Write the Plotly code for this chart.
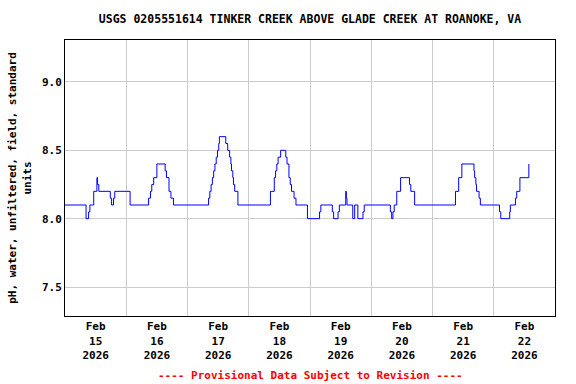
import plotly.graph_objects as go

# change points of the pH record (step series)
times = [
    "2026-02-15 00:00", "2026-02-15 08:15", "2026-02-15 09:15", "2026-02-15 09:45",
    "2026-02-15 11:15", "2026-02-15 12:30", "2026-02-15 12:45", "2026-02-15 13:15",
    "2026-02-15 17:45", "2026-02-15 18:15", "2026-02-15 19:00", "2026-02-15 19:30",
    "2026-02-16 01:30", "2026-02-16 08:45", "2026-02-16 09:30", "2026-02-16 10:00",
    "2026-02-16 10:45", "2026-02-16 12:00", "2026-02-16 15:15", "2026-02-16 15:45",
    "2026-02-16 16:45", "2026-02-16 17:30", "2026-02-16 18:30",
    "2026-02-17 08:15", "2026-02-17 08:45", "2026-02-17 09:15", "2026-02-17 09:45",
    "2026-02-17 10:15", "2026-02-17 10:45", "2026-02-17 11:15", "2026-02-17 11:45",
    "2026-02-17 12:15", "2026-02-17 12:30", "2026-02-17 15:00", "2026-02-17 15:45",
    "2026-02-17 16:30", "2026-02-17 17:00", "2026-02-17 17:15", "2026-02-17 17:45",
    "2026-02-17 18:00", "2026-02-17 18:30", "2026-02-17 19:45",
    "2026-02-18 08:30", "2026-02-18 10:00", "2026-02-18 10:30", "2026-02-18 11:00",
    "2026-02-18 11:30", "2026-02-18 12:30", "2026-02-18 14:30", "2026-02-18 15:00",
    "2026-02-18 15:45", "2026-02-18 16:15", "2026-02-18 16:45", "2026-02-18 17:45",
    "2026-02-18 18:30", "2026-02-18 23:00",
    "2026-02-19 03:45", "2026-02-19 04:15", "2026-02-19 08:45", "2026-02-19 09:15",
    "2026-02-19 11:00", "2026-02-19 11:30", "2026-02-19 14:00", "2026-02-19 14:15",
    "2026-02-19 14:30", "2026-02-19 16:45", "2026-02-19 17:30", "2026-02-19 18:45",
    "2026-02-19 20:45", "2026-02-19 21:15",
    "2026-02-20 07:30", "2026-02-20 08:00", "2026-02-20 08:30", "2026-02-20 09:00",
    "2026-02-20 10:00", "2026-02-20 11:30", "2026-02-20 15:00", "2026-02-20 15:30",
    "2026-02-20 17:00",
    "2026-02-21 09:00", "2026-02-21 10:15", "2026-02-21 11:30", "2026-02-21 16:15",
    "2026-02-21 16:30", "2026-02-21 17:00", "2026-02-21 17:15", "2026-02-21 18:15",
    "2026-02-21 18:45",
    "2026-02-22 02:15", "2026-02-22 02:45", "2026-02-22 06:15", "2026-02-22 06:30",
    "2026-02-22 08:30", "2026-02-22 09:00", "2026-02-22 10:15", "2026-02-22 13:45",
]
ph_values = [
    8.1, 8.0, 8.05, 8.1,
    8.2, 8.3, 8.25, 8.2,
    8.15, 8.1, 8.15, 8.2,
    8.1, 8.15, 8.2, 8.25,
    8.3, 8.4, 8.35, 8.3,
    8.2, 8.15, 8.1,
    8.15, 8.2, 8.25, 8.3,
    8.35, 8.4, 8.45, 8.5,
    8.55, 8.6, 8.55, 8.5,
    8.45, 8.4, 8.35, 8.3,
    8.25, 8.2, 8.1,
    8.2, 8.3, 8.35, 8.4,
    8.45, 8.5, 8.45, 8.4,
    8.3, 8.25, 8.2, 8.15,
    8.1, 8.0,
    8.05, 8.1, 8.05, 8.0,
    8.05, 8.1, 8.2, 8.15,
    8.1, 8.0, 8.1, 8.0,
    8.05, 8.1,
    8.05, 8.0, 8.05, 8.1,
    8.2, 8.3, 8.25, 8.2,
    8.1,
    8.2, 8.3, 8.4, 8.35,
    8.3, 8.25, 8.2, 8.15,
    8.1,
    8.05, 8.0, 8.05, 8.1,
    8.15, 8.2, 8.3, 8.4,
]

tick_dates = ["2026-02-15 12:00", "2026-02-16 12:00", "2026-02-17 12:00", "2026-02-18 12:00",
              "2026-02-19 12:00", "2026-02-20 12:00", "2026-02-21 12:00", "2026-02-22 12:00"]
tick_labels = ["Feb<br>15<br>2026", "Feb<br>16<br>2026", "Feb<br>17<br>2026", "Feb<br>18<br>2026",
               "Feb<br>19<br>2026", "Feb<br>20<br>2026", "Feb<br>21<br>2026", "Feb<br>22<br>2026"]
y_ticks = [7.5, 8.0, 8.5, 9.0]
y_tick_labels = ["7.5", "8.0", "8.5", "9.0"]

FONT = "DejaVu Sans Mono"

fig = go.Figure()
fig.add_trace(go.Scatter(
    x=times, y=ph_values, mode="lines", line_shape="hv",
    line=dict(color="#0000ff", width=1), showlegend=False,
))

fig.update_layout(
    width=576, height=384,
    margin=dict(l=65, r=21, t=40, b=68),
    paper_bgcolor="white", plot_bgcolor="white",
    font=dict(family=FONT, size=11, color="black"),
    title=dict(text="<b>USGS 0205551614 TINKER CREEK ABOVE GLADE CREEK AT ROANOKE, VA</b>",
               x=0.5, xref="paper", xanchor="center", y=1 - 19 / 384, yref="container",
               yanchor="middle", font=dict(family=FONT, size=11.5, color="black")),
    xaxis=dict(
        type="date", range=["2026-02-15 00:00", "2026-02-23 00:00"],
        tickmode="array", tickvals=tick_dates, ticktext=tick_labels,
        showgrid=False, ticks="", zeroline=False, automargin=False,
        showline=True, linecolor="black", linewidth=1, mirror=True,
        tickfont=dict(family=FONT, size=11, color="black", weight="bold"),
        minor=dict(tick0="2026-02-15", dtick=86400000, showgrid=True,
                   gridcolor="#cccccc", gridwidth=1, ticks=""),
    ),
    yaxis=dict(
        range=[7.288, 9.307], tickmode="array", tickvals=y_ticks, ticktext=y_tick_labels,
        showgrid=True, gridcolor="#cccccc", gridwidth=1, ticks="", zeroline=False,
        automargin=False,
        showline=True, linecolor="black", linewidth=1, mirror=True,
        tickfont=dict(family=FONT, size=11, color="black", weight="bold"),
        title=dict(text="<b>pH, water, unfiltered, field, standard<br>units</b>",
                   font=dict(family=FONT, size=11, color="black"), standoff=8),
    ),
    annotations=[dict(
        text="<b>---- Provisional Data Subject to Revision ----</b>",
        xref="paper", yref="paper", x=0.5, y=-(375 - 316) / 276,
        xanchor="center", yanchor="middle", showarrow=False,
        font=dict(family=FONT, size=11, color="#ff0000"),
    )],
)

fig.write_html("out.html", config={"displayModeBar": False},
               post_script="document.body.style.margin='0px';")
